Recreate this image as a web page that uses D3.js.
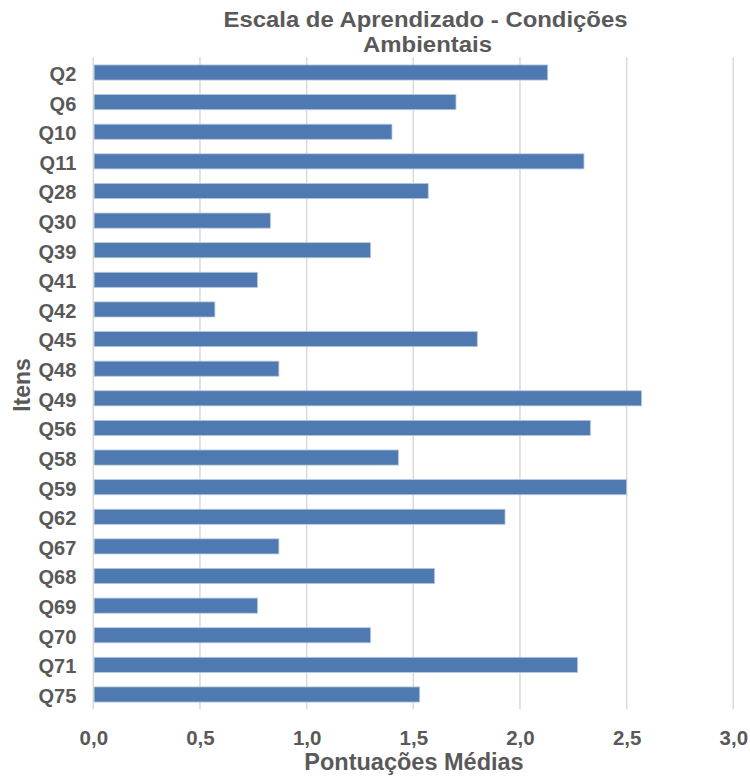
<!DOCTYPE html>
<html>
<head>
<meta charset="utf-8">
<script src="https://cdn.jsdelivr.net/npm/d3@7"></script>
<style>
  html, body { margin: 0; padding: 0; background: #fff; }
  svg { display: block; font-family: "Liberation Sans", Arial, sans-serif; }
</style>
</head>
<body>
<svg id="chart" width="750" height="778"></svg>
<script>
// Item labels (top to bottom) and their mean scores
const items = ["Q2", "Q6", "Q10", "Q11", "Q28", "Q30", "Q39", "Q41", "Q42", "Q45", "Q48",
               "Q49", "Q56", "Q58", "Q59", "Q62", "Q67", "Q68", "Q69", "Q70", "Q71", "Q75"];
const scores = [2.13, 1.70, 1.40, 2.30, 1.57, 0.83, 1.30, 0.77, 0.57, 1.80, 0.87,
                2.57, 2.33, 1.43, 2.50, 1.93, 0.87, 1.60, 0.77, 1.30, 2.27, 1.53];
const xTicks = [0, 0.5, 1.0, 1.5, 2.0, 2.5, 3.0];
const titleLines = ["Escala de Aprendizado - Condições", "Ambientais"];
const xTitle = "Pontuações Médias";
const yTitle = "Itens";

const data = items.map((q, i) => ({ item: q, value: scores[i] }));

const svg = d3.select("#chart");
const textColor = "#595959";
const barColor = "#4f79b1";
const gridColor = "#d9d9d9";
const fontFamily = "'Liberation Sans', Arial, sans-serif";

const x = d3.scaleLinear().domain([0, 3]).range([93.3, 733.3]);
const y = d3.scaleBand().domain(items).range([57.7, 709.3]).paddingInner(0.49).paddingOuter(0.245);

// vertical gridlines
svg.append("g")
  .selectAll("line")
  .data(xTicks)
  .join("line")
  .attr("x1", d => x(d)).attr("x2", d => x(d))
  .attr("y1", 57).attr("y2", 709)
  .attr("stroke", gridColor)
  .attr("stroke-width", 1.5);

// bars
svg.append("g")
  .selectAll("rect")
  .data(data)
  .join("rect")
  .attr("x", x(0) + 0.8)
  .attr("y", d => y(d.item))
  .attr("width", d => x(d.value) - x(0) - 0.8)
  .attr("height", y.bandwidth())
  .attr("fill", barColor)
  .attr("stroke", "#b7c8e0")
  .attr("stroke-width", 0.8);

// y axis labels
const yAxis = d3.axisLeft(y).tickSize(0).tickPadding(17);
const gy = svg.append("g").attr("transform", `translate(${x(0)},2)`).call(yAxis);
gy.select(".domain").remove();
gy.selectAll("text")
  .attr("fill", textColor)
  .attr("font-size", 20)
  .attr("font-weight", "bold")
  .attr("font-family", fontFamily);

// x axis labels
const fmt = d => d3.format(".1f")(d).replace(".", ",");
const xAxis = d3.axisBottom(x).tickValues(xTicks).tickFormat(fmt).tickSize(0).tickPadding(21);
const gx = svg.append("g").attr("transform", "translate(0,709)").call(xAxis);
gx.select(".domain").remove();
gx.selectAll("text")
  .attr("fill", textColor)
  .attr("font-size", 20.5)
  .attr("font-weight", "bold")
  .attr("font-family", fontFamily);

// title (two lines)
const titleWidths = [404, 129];
svg.append("g")
  .selectAll("text")
  .data(titleLines)
  .join("text")
  .attr("x", (d, i) => i === 0 ? 425.5 : 427.5)
  .attr("y", (d, i) => 26.5 + i * 25)
  .attr("text-anchor", "middle")
  .attr("fill", textColor)
  .attr("font-size", 22)
  .attr("font-weight", "bold")
  .attr("textLength", (d, i) => titleWidths[i])
  .attr("lengthAdjust", "spacingAndGlyphs")
  .text(d => d);

// axis titles
svg.append("text")
  .attr("x", 414)
  .attr("y", 770)
  .attr("text-anchor", "middle")
  .attr("fill", textColor)
  .attr("font-size", 23.5)
  .attr("font-weight", "bold")
  .text(xTitle);

svg.append("text")
  .attr("transform", "translate(30,385) rotate(-90)")
  .attr("text-anchor", "middle")
  .attr("fill", textColor)
  .attr("font-size", 23)
  .attr("font-weight", "bold")
  .text(yTitle);
</script>
</body>
</html>
